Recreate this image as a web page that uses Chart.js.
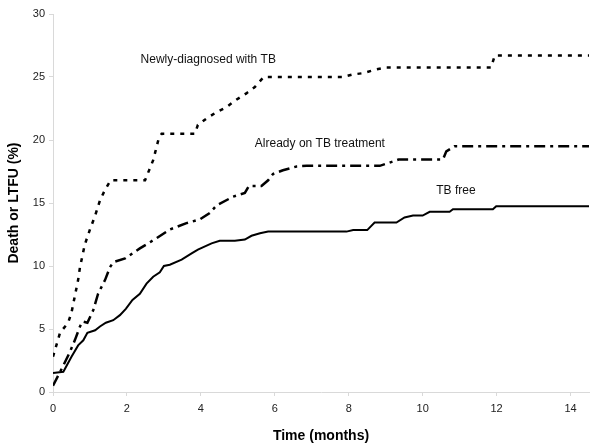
<!DOCTYPE html>
<html>
<head>
<meta charset="utf-8">
<script src="https://cdn.jsdelivr.net/npm/chart.js@4"></script>
<style>
  html, body { margin: 0; padding: 0; background: #fff; }
  #wrap { width: 600px; height: 445px; }
</style>
</head>
<body>
<div id="wrap"><canvas id="km-chart"></canvas></div>
<script>
// time in months and cumulative death or LTFU (%)
const newlyTime = [0, 0.19, 0.41, 0.5, 0.68, 0.73, 0.86, 1.0, 1.14, 1.27, 1.4, 1.56, 2.49, 2.71, 2.85, 2.94, 3.84, 3.92, 4.15, 4.42, 4.69, 4.96, 5.23, 5.46, 5.7, 7.84, 8.1, 8.38, 8.75, 9.0, 11.85, 11.95, 14.5];
const newlyVals = [2.8, 4.7, 5.5, 6.3, 8.9, 9.9, 11.7, 12.9, 14.0, 15.2, 16.0, 16.8, 16.8, 18.4, 20.0, 20.5, 20.5, 21.2, 21.7, 22.2, 22.6, 23.2, 23.7, 24.2, 25.0, 25.0, 25.2, 25.3, 25.6, 25.75, 25.75, 26.7, 26.7];

const alreadyTime = [0, 0.28, 0.46, 0.59, 0.73, 0.8, 0.93, 1.09, 1.22, 1.41, 1.54, 1.63, 1.95, 2.35, 2.8, 3.16, 3.61, 3.97, 4.24, 4.42, 4.87, 5.19, 5.3, 5.64, 5.82, 5.95, 6.22, 6.59, 6.86, 8.84, 9.2, 9.35, 10.55, 10.64, 10.86, 14.5];
const alreadyVals = [0.5, 2.1, 3.2, 4.1, 5.2, 5.6, 5.5, 6.5, 7.8, 8.9, 9.9, 10.3, 10.6, 11.4, 12.2, 12.9, 13.4, 13.7, 14.2, 14.8, 15.5, 15.8, 16.35, 16.35, 16.8, 17.3, 17.6, 17.9, 17.95, 17.95, 18.3, 18.45, 18.45, 19.1, 19.5, 19.5];

const freeTime = [0, 0.28, 0.5, 0.68, 0.82, 0.93, 1.14, 1.27, 1.43, 1.63, 1.81, 1.97, 2.15, 2.35, 2.53, 2.71, 2.89, 3.0, 3.16, 3.48, 3.75, 3.92, 4.29, 4.51, 4.92, 5.19, 5.37, 5.6, 5.82, 7.94, 8.12, 8.5, 8.7, 9.29, 9.51, 9.74, 10.0, 10.19, 10.73, 10.82, 11.9, 11.99, 14.5];
const freeVals = [1.5, 1.6, 2.8, 3.7, 4.1, 4.7, 4.9, 5.2, 5.5, 5.7, 6.1, 6.6, 7.3, 7.8, 8.6, 9.15, 9.5, 10.0, 10.1, 10.5, 11.0, 11.3, 11.8, 12.0, 12.0, 12.1, 12.4, 12.6, 12.73, 12.73, 12.85, 12.85, 13.45, 13.45, 13.85, 14.0, 14.0, 14.3, 14.3, 14.5, 14.5, 14.75, 14.75];

const xTicks = [0, 2, 4, 6, 8, 10, 12, 14];
const yTicks = [0, 5, 10, 15, 20, 25, 30];

function toPoints(ts, vs) {
    return ts.map((t, i) => ({ x: t, y: vs[i] }));
}

// text labels next to each curve, placed in data units
const curveLabels = {
    id: 'curveLabels',
    afterDatasetsDraw(chart) {
        const { ctx, scales } = chart;
        const items = [
            { text: 'Newly-diagnosed with TB', x: 4.2, y: 26.35 },
            { text: 'Already on TB treatment', x: 7.22, y: 19.7 },
            { text: 'TB free', x: 10.9, y: 16.0 }
        ];
        ctx.save();
        ctx.font = '12px "Liberation Sans", Arial, sans-serif';
        ctx.fillStyle = '#111';
        ctx.textAlign = 'center';
        ctx.textBaseline = 'middle';
        items.forEach(it => {
            ctx.fillText(it.text, scales.x.getPixelForValue(it.x), scales.y.getPixelForValue(it.y));
        });
        ctx.restore();
    }
};

const ctx = document.getElementById('km-chart').getContext('2d');
const kmChart = new Chart(ctx, {
    type: 'line',
    data: {
        datasets: [
            {
                label: 'Newly-diagnosed with TB',
                data: toPoints(newlyTime, newlyVals),
                borderColor: '#000',
                borderWidth: 2.5,
                borderDash: [4, 6],
                pointRadius: 0,
                tension: 0,
                fill: false
            },
            {
                label: 'Already on TB treatment',
                data: toPoints(alreadyTime, alreadyVals),
                borderColor: '#000',
                borderWidth: 2.5,
                borderDash: [11, 5, 3, 5],
                pointRadius: 0,
                tension: 0,
                fill: false
            },
            {
                label: 'TB free',
                data: toPoints(freeTime, freeVals),
                borderColor: '#000',
                borderWidth: 2,
                pointRadius: 0,
                tension: 0,
                fill: false
            }
        ]
    },
    options: {
        responsive: true,
        maintainAspectRatio: false,
        animation: false,
        layout: { padding: { left: 6, right: 11, top: 14, bottom: 0 } },
        plugins: {
            legend: { display: false },
            tooltip: { enabled: false }
        },
        scales: {
            x: {
                type: 'linear',
                min: 0,
                max: 14.5,
                afterBuildTicks: axis => { axis.ticks = xTicks.map(v => ({ value: v })); },
                afterFit: axis => { axis.height = 53; },
                grid: { drawOnChartArea: false, color: '#d9d9d9', tickLength: 4 },
                border: { color: '#d9d9d9' },
                ticks: {
                    color: '#222',
                    padding: 6,
                    font: { family: '"Liberation Sans", Arial, sans-serif', size: 11 }
                },
                title: {
                    display: true,
                    text: 'Time (months)',
                    color: '#000',
                    padding: { top: 6, bottom: 0 },
                    font: { family: '"Liberation Sans", Arial, sans-serif', size: 14, weight: 'bold' }
                }
            },
            y: {
                min: 0,
                max: 30,
                afterBuildTicks: axis => { axis.ticks = yTicks.map(v => ({ value: v })); },
                afterFit: axis => { axis.width = 47; },
                grid: { drawOnChartArea: false, color: '#d9d9d9', tickLength: 4 },
                border: { color: '#d9d9d9' },
                ticks: {
                    color: '#222',
                    padding: 4,
                    font: { family: '"Liberation Sans", Arial, sans-serif', size: 11 }
                },
                title: {
                    display: true,
                    text: 'Death or LTFU (%)',
                    color: '#000',
                    padding: { top: 0, bottom: 4 },
                    font: { family: '"Liberation Sans", Arial, sans-serif', size: 14, weight: 'bold' }
                }
            }
        }
    },
    plugins: [curveLabels]
});
</script>
</body>
</html>
